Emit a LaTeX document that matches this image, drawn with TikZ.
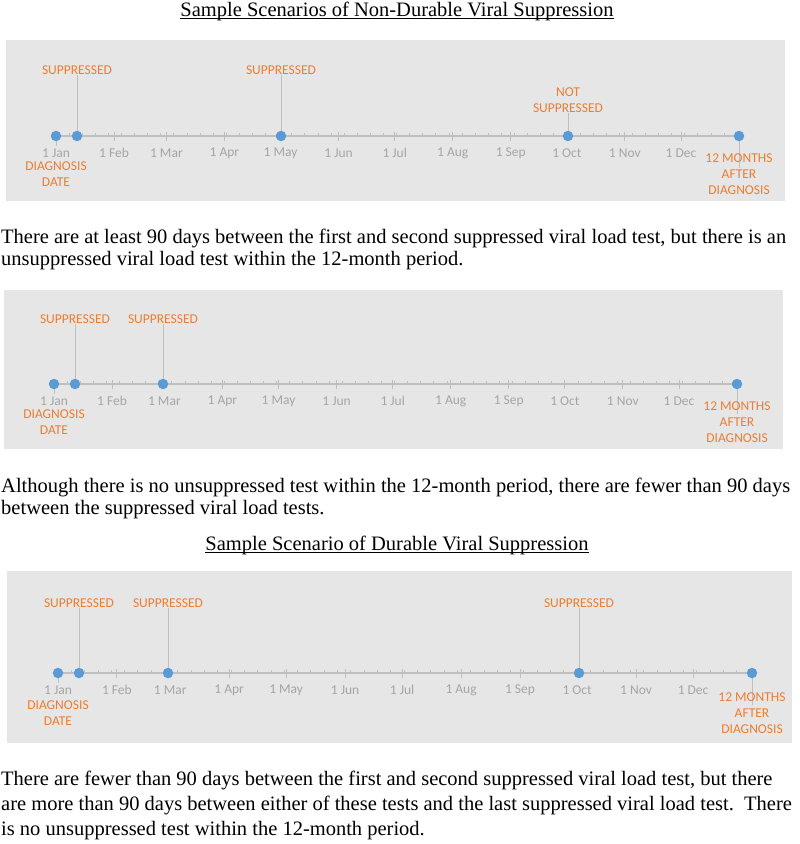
\documentclass[tikz,border=0pt]{standalone}
\usepackage{fontspec}
\setmainfont{Liberation Serif}
\newfontfamily\bodyfont{Liberation Serif}
\newfontfamily\calfont{Carlito}
\definecolor{panelgray}{HTML}{E7E6E6}
\definecolor{axisgray}{HTML}{BFBFBF}
\definecolor{dotblue}{HTML}{5B9BD5}
\definecolor{labgray}{HTML}{A5A5A5}
\definecolor{orng}{HTML}{ED7D31}
\tikzset{
  body/.style={font=\bodyfont\fontsize{20.5}{22}\selectfont, anchor=base west, inner sep=0pt},
  ttl/.style={font=\bodyfont\fontsize{20.5}{22}\selectfont, anchor=base, inner sep=0pt},
  uline/.style={draw=black, line width=0.9pt},
  panel/.style={fill=panelgray, draw=none},
  axisline/.style={draw=axisgray, line width=1.5pt},
  minortick/.style={draw=axisgray, line width=0.8pt},
  majortick/.style={draw=axisgray, line width=0.9pt},
  dot/.style={circle, fill=dotblue, minimum size=10.5pt, inner sep=0pt},
  tlab/.style={font=\calfont\fontsize{13.5}{16}\selectfont, text=labgray, inner sep=0pt},
  olab/.style={font=\calfont\fontsize{13.5}{16}\selectfont, text=orng, align=center, inner sep=0.5pt},
  stem/.style={draw=axisgray, line width=0.8pt},
}
% #1 prefix, #2 x0, #3 length, #4 axis y, #5 tick label y
\newcommand\monthaxis[5]{%
  \coordinate (#1s) at (#2,#4);
  \coordinate (#1e) at ({#2+#3},#4);
  \draw[axisline] (#1s) -- (#1e);
  \foreach \k in {1,...,52} \draw[minortick] ({#2+#3/365*\k*7},#4) -- ++(0,-3);
  \foreach \d/\m [count=\i] in {31/Feb,59/Mar,90/Apr,120/May,151/Jun,181/Jul,212/Aug,243/Sep,273/Oct,304/Nov,334/Dec} {
    \draw[majortick] ({#2+#3/365*\d},{#4-4}) -- ++(0,9);
    \node[tlab] (#1m\i) at ({#2+#3/365*\d},#5) {1 \m};
  }
  \node[tlab] (#1jan) at (#2,#5) {1 Jan};
  \draw[stem] (#1s) -- ({#2},{#5-7});
}
\begin{document}
\begin{tikzpicture}[x=1pt,y=-1pt]
\useasboundingbox (0,0) rectangle (800,844);

% ---------- Title 1
\node[ttl] (t1) at (397,16) {Sample Scenarios of Non-Durable Viral Suppression};
\draw[uline] ([yshift=-2.5pt]t1.base west) -- ([yshift=-2.5pt]t1.base east);

% ---------- Panel 1
\fill[panel] (6,40) rectangle (785,201);
\monthaxis{a}{56}{683}{136}{153}
\node[olab] (aL1) at (77,70) {SUPPRESSED};
\node[olab] (aL2) at (281,70) {SUPPRESSED};
\node[olab] (aL3) at (568,100) {NOT\\SUPPRESSED};
\node[olab] (aL0) at (56,174) {DIAGNOSIS\\DATE};
\coordinate (aq1) at (77,136);
\coordinate (aq2) at (281,136);
\coordinate (aq3) at (568,136);
\coordinate (aend) at (739,168);
\draw[stem] (aL1) -- (aq1);
\draw[stem] (aL2) -- (aq2);
\draw[stem] (aL3) -- (aq3);
\draw[stem] (ae) -- (aend);
\node[olab] (aL4) at (739,174) {12 MONTHS\\AFTER\\DIAGNOSIS};
\node[dot] (ad0) at (as) {};
\node[dot] (ad1) at (aq1) {};
\node[dot] (ad2) at (aq2) {};
\node[dot] (ad3) at (aq3) {};
\node[dot] (ad4) at (ae) {};

\node[body] (x1) at (1,243) {There are at least 90 days between the first and second suppressed viral load test, but there is an};
\node[body] (x2) at (1,265) {unsuppressed viral load test within the 12-month period.};

% ---------- Panel 2
\fill[panel] (4,290) rectangle (783,449);
\monthaxis{b}{54}{683}{384}{401}
\node[olab] (bL1) at (75,319) {SUPPRESSED};
\node[olab] (bL2) at (163,319) {SUPPRESSED};
\node[olab] (bL0) at (54,422) {DIAGNOSIS\\DATE};
\coordinate (bq1) at (75,384);
\coordinate (bq2) at (163,384);
\coordinate (bend) at (737,414);
\draw[stem] (bL1) -- (bq1);
\draw[stem] (bL2) -- (bq2);
\draw[stem] (be) -- (bend);
\node[olab] (bL4) at (737,422) {12 MONTHS\\AFTER\\DIAGNOSIS};
\node[dot] (bd0) at (bs) {};
\node[dot] (bd1) at (bq1) {};
\node[dot] (bd2) at (bq2) {};
\node[dot] (bd4) at (be) {};

\node[body] (x3) at (1,492) {Although there is no unsuppressed test within the 12-month period, there are fewer than 90 days};
\node[body] (x4) at (1,514) {between the suppressed viral load tests.};

% ---------- Title 2
\node[ttl] (t2) at (397,550) {Sample Scenario of Durable Viral Suppression};
\draw[uline] ([yshift=-2.5pt]t2.base west) -- ([yshift=-2.5pt]t2.base east);

% ---------- Panel 3
\fill[panel] (7,571) rectangle (792,743);
\monthaxis{c}{58}{694}{673}{690}
\node[olab] (cL1) at (79,603) {SUPPRESSED};
\node[olab] (cL2) at (168,603) {SUPPRESSED};
\node[olab] (cL3) at (579,603) {SUPPRESSED};
\node[olab] (cL0) at (58,713) {DIAGNOSIS\\DATE};
\coordinate (cq1) at (79,673);
\coordinate (cq2) at (168,673);
\coordinate (cq3) at (579,673);
\coordinate (cend) at (752,705);
\draw[stem] (cL1) -- (cq1);
\draw[stem] (cL2) -- (cq2);
\draw[stem] (cL3) -- (cq3);
\draw[stem] (ce) -- (cend);
\node[olab] (cL4) at (752,713) {12 MONTHS\\AFTER\\DIAGNOSIS};
\node[dot] (cd0) at (cs) {};
\node[dot] (cd1) at (cq1) {};
\node[dot] (cd2) at (cq2) {};
\node[dot] (cd3) at (cq3) {};
\node[dot] (cd4) at (ce) {};

\node[body] (x5) at (1,785) {There are fewer than 90 days between the first and second suppressed viral load test, but there};
\node[body] (x6) at (1,810) {are more than 90 days between either of these tests and the last suppressed viral load test.\ \ There};
\node[body] (x7) at (1,835) {is no unsuppressed test within the 12-month period.};
\end{tikzpicture}
\end{document}
